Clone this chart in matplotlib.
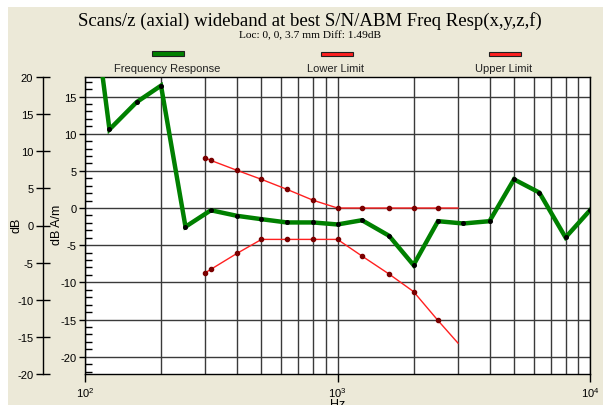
import matplotlib
matplotlib.use("Agg")
import matplotlib.pyplot as plt
from matplotlib.patches import Rectangle
from matplotlib.ticker import MultipleLocator, LogLocator, NullFormatter

plt.rcParams["axes.unicode_minus"] = False

# ---- data ----
freq_resp_hz = [100, 125, 160, 200, 250, 315, 400, 500, 630, 800, 1000, 1250,
                1600, 2000, 2500, 3150, 4000, 5000, 6300, 8000, 10000]
freq_resp_db = [36.0, 10.57, 14.24, 16.47, -2.52, -0.30, -1.05, -1.50, -1.94, -1.94,
                -2.21, -1.64, -3.73, -7.67, -1.77, -2.08, -1.77, 3.86, 2.08, -3.96, -0.30]
limit_hz = [300, 315, 400, 500, 630, 800, 1000, 1250, 1600, 2000, 2500, 3000]
upper_db = [6.73, 6.41, 5.07, 3.86, 2.52, 1.05, 0, 0, 0, 0, 0, 0]
lower_db = [-8.69, -8.25, -6.10, -4.22, -4.22, -4.22, -4.22, -6.46, -8.88, -11.24,
            -15.13, -18.17]
series_names = ["Frequency Response", "Lower Limit", "Upper Limit"]
title = "Scans/z (axial) wideband at best S/N/ABM Freq Resp(x,y,z,f)"
subtitle = "Loc: 0, 0, 3.7 mm Diff: 1.49dB"

W, H = 603, 406
BEIGE = "#ECE9D8"
GREEN = "#008000"
RED = "#FF2020"
GRID = "#3a3a3a"
SANS = "Liberation Sans"
SERIF = "Liberation Serif"

fig = plt.figure(figsize=(W / 100, H / 100), dpi=100, facecolor="white")
fig.patches.append(Rectangle((8 / W, 0), 1 - 8 / W, 1 - 8 / H, transform=fig.transFigure,
                             facecolor=BEIGE, edgecolor="none", zorder=-10))

L, R, T, B = 85, 590, 78, 375
ax = fig.add_axes([L / W, 1 - B / H, (R - L) / W, (B - T) / H])
ax.set_facecolor("white")
ax.set_xscale("log")
ax.set_xlim(100, 10000)
ax.set_ylim(-22.33, 17.63)

ax.yaxis.set_major_locator(MultipleLocator(5))
ax.yaxis.set_minor_locator(MultipleLocator(1))
ax.xaxis.set_major_locator(LogLocator(base=10))
ax.xaxis.set_minor_locator(LogLocator(base=10, subs=range(2, 10)))
ax.xaxis.set_minor_formatter(NullFormatter())
ax.grid(True, which="major", axis="y", color=GRID, lw=1.0)
ax.grid(True, which="both", axis="x", color=GRID, lw=1.0)
ax.set_axisbelow(True)
ax.tick_params(axis="y", which="major", direction="out", length=4, width=1,
               labelsize=8, pad=2, colors="black")
ax.tick_params(axis="y", which="minor", direction="in", length=5, width=1)
ax.tick_params(axis="x", which="major", direction="out", length=6, width=1,
               labelsize=8, pad=2)
ax.tick_params(axis="x", which="minor", length=0)
for lab in ax.get_xticklabels() + ax.get_yticklabels():
    lab.set_fontfamily(SANS)
for s in ax.spines.values():
    s.set_color("black")
    s.set_linewidth(1.0)

ax.plot(freq_resp_hz, freq_resp_db, color=GREEN, lw=3.2, marker="o", ms=2.6,
        mfc="black", mec="black", zorder=5, solid_joinstyle="miter")
ax.plot(limit_hz, upper_db, color=RED, lw=1.0, marker="o", ms=3.0, mfc="#7a0000",
        mec="#7a0000", markevery=slice(0, len(limit_hz) - 1), zorder=4)
ax.plot(limit_hz, lower_db, color=RED, lw=1.0, marker="o", ms=3.0, mfc="#7a0000",
        mec="#7a0000", markevery=slice(0, len(limit_hz) - 1), zorder=4)

ax.set_ylabel("dB A/m", fontsize=9, family=SANS, va="center")
ax.yaxis.set_label_coords((57 - L) / (R - L), (B - 225) / (B - T))
ax.set_xlabel("Hz", fontsize=9, family=SANS)
ax.xaxis.set_label_coords(0.5, (B - 405) / (B - T))
ax.xaxis.label.set_va("center")

# outer dB axis
ax2 = fig.add_axes([43 / W, 1 - B / H, 0.0001, (B - T) / H])
ax2.set_ylim(-20, 20)
ax2.yaxis.set_major_locator(MultipleLocator(5))
ax2.set_xticks([])
for k in ["top", "right", "bottom"]:
    ax2.spines[k].set_visible(False)
ax2.spines["left"].set_linewidth(1.0)
ax2.patch.set_visible(False)
ax2.tick_params(axis="y", direction="inout", length=10, width=1, labelsize=8, pad=2)
for lab in ax2.get_yticklabels():
    lab.set_fontfamily(SANS)
fig.text(17 / W, 1 - 225 / H, "dB", rotation=90, ha="center", va="center",
         fontsize=9, family=SANS)

# titles
fig.text(310 / W, 1 - 21 / H, title, ha="center", va="center", fontsize=13.5, family=SERIF)
fig.text(310 / W, 1 - 36 / H, subtitle, ha="center", va="center", fontsize=8.2, family=SERIF)

# legend
leg = [(series_names[0], 152, 184, 5, GREEN, 167),
       (series_names[1], 321, 353, 3.5, RED, 335.5),
       (series_names[2], 489, 521, 3.5, RED, 503.5)]
for name, x0, x1, h, col, xc in leg:
    fig.patches.append(Rectangle((x0 / W, 1 - (54.8 + h / 2) / H), (x1 - x0) / W, h / H,
                                 transform=fig.transFigure, facecolor=col,
                                 edgecolor="#202020", lw=0.8))
    fig.text(xc / W, 1 - 69.3 / H, name, ha="center", va="center", fontsize=8, family=SANS,
             color="#222222")

fig.savefig("out.png", dpi=100, facecolor=fig.get_facecolor())
